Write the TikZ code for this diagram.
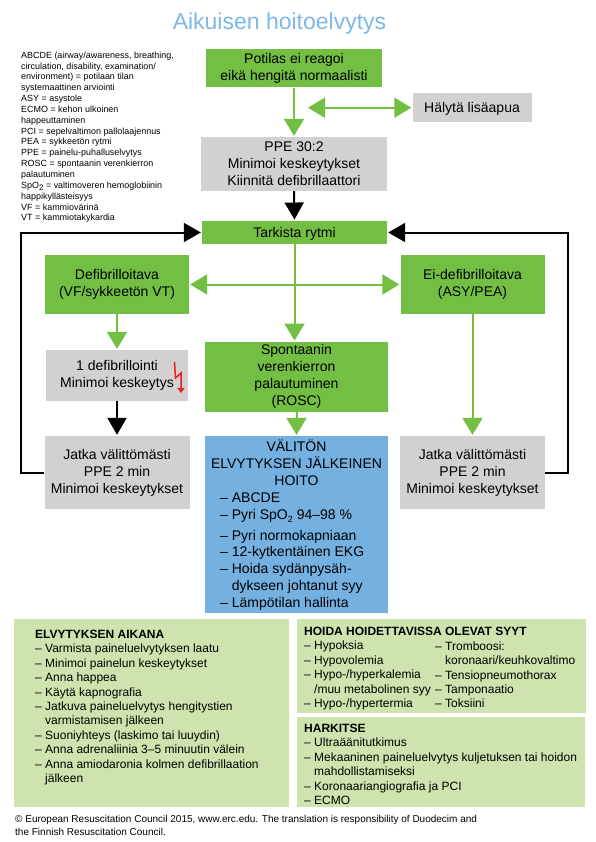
\documentclass[tikz,border=0pt]{standalone}
\usepackage{fontspec}
\setmainfont{Liberation Sans}
\usetikzlibrary{arrows.meta}
\definecolor{ercgreen}{HTML}{72BF44}
\definecolor{ercgray}{HTML}{D2D1D0}
\definecolor{ercblue}{HTML}{74B0E0}
\definecolor{ercpale}{HTML}{CEE3AE}
\definecolor{erctitle}{HTML}{7DB8E8}
\definecolor{ercred}{HTML}{ED1C24}
\newcommand{\subtwo}[2]{\raisebox{-#1pt}{\fontsize{#2}{8}\selectfont 2}}
\newcommand{\dsh}{–\ }
\newcommand{\ind}{\phantom{–\ }}
\tikzset{
  boxbase/.style={inner sep=0pt,align=center,text=black,font=\fontsize{14}{17}\selectfont,execute at begin node={\rule{0pt}{13pt}}},
  greenbox/.style={boxbase,fill=ercgreen},
  graybox/.style={boxbase,fill=ercgray},
  bluebox/.style={inner sep=0pt,fill=ercblue},
  palebox/.style={inner sep=0pt,fill=ercpale},
  listtext/.style={inner sep=0pt,anchor=north west,align=left,font=\fontsize{12}{14.4}\selectfont},
  bluetext/.style={inner sep=0pt,align=left,font=\fontsize{14}{16.9}\selectfont},
  smalltext/.style={inner sep=0pt,anchor=north west,align=left,font=\fontsize{8.95}{10.85}\selectfont},
  greenarrow/.style={draw=ercgreen,line width=2pt,-{Triangle[width=20pt,length=17pt,fill=ercgreen]},shorten >=1pt},
  blackarrow/.style={draw=black,line width=2pt,-{Triangle[width=19pt,length=17pt,fill=black]},shorten >=1pt},
}
\begin{document}
\begin{tikzpicture}[x=1pt,y=-1pt]
\useasboundingbox (0,0) rectangle (595,842);
\node[inner sep=0pt,text=erctitle,font=\fontsize{23}{28}\selectfont] (title) at (279.5,24) {Aikuisen hoitoelvytys};
\node[smalltext] (legend) at (21,51.5) {ABCDE (airway/awareness, breathing,\\circulation, disability, examination/\\environment) = potilaan tilan\\systemaattinen arviointi\\ASY = asystole\\ECMO = kehon ulkoinen\\happeuttaminen\\PCI = sepelvaltimon pallolaajennus\\PEA = sykkeetön rytmi\\PPE = painelu-puhalluselvytys\\ROSC = spontaanin verenkierron\\palautuminen\\SpO\subtwo{2}{8} = valtimoveren hemoglobiinin\\happikyllästeisyys\\VF = kammiovärinä\\VT = kammiotakykardia};

\node[greenbox,minimum width=176pt,minimum height=38.5pt] (potilas) at (294,68.2) {Potilas ei reagoi\\eikä hengitä normaalisti};
\node[graybox,minimum width=119pt,minimum height=29.5pt] (halyta) at (472,107.7) {Hälytä lisäapua};
\node[graybox,minimum width=186pt,minimum height=54pt] (ppe) at (294,164) {PPE 30:2\\Minimoi keskeytykset\\Kiinnitä defibrillaattori};
\node[greenbox,minimum width=185pt,minimum height=23.5pt] (rytmi) at (294.5,232.5) {Tarkista rytmi};
\node[greenbox,minimum width=144pt,minimum height=59pt] (defib) at (117,284.5) {Defibrilloitava\\(VF/sykkeetön VT)};
\node[greenbox,minimum width=144pt,minimum height=59pt] (eidefib) at (472.5,284.5) {Ei-defibrilloitava\\(ASY/PEA)};
\node[graybox,minimum width=142pt,minimum height=51pt] (isku) at (117,375.5) {1 defibrillointi\\Minimoi keskeytys};
\node[graybox,minimum width=145pt,minimum height=73pt] (jatkaL) at (117,472.5) {Jatka välittömästi\\PPE 2 min\\Minimoi keskeytykset};
\node[graybox,minimum width=145pt,minimum height=73pt] (jatkaR) at (472.5,472.5) {Jatka välittömästi\\PPE 2 min\\Minimoi keskeytykset};
\node[greenbox,minimum width=183pt,minimum height=70pt] (rosc) at (296.5,376.7) {Spontaanin\\verenkierron\\palautuminen\\(ROSC)};
\node[bluebox,minimum width=183pt,minimum height=176.5pt] (hoito) at (296.5,524.3) {};
\node[inner sep=0pt,align=center,font=\fontsize{14}{17}\selectfont] (hoitoH) at (296.5,463) {VÄLITÖN\\ELVYTYKSEN JÄLKEINEN\\HOITO};
\node[bluetext,anchor=north west] (hoitoL) at (220,492.3) {\dsh ABCDE\\\dsh Pyri SpO\subtwo{3}{9} 94–98 \%\\[4pt]\dsh Pyri normokapniaan\\\dsh 12-kytkentäinen EKG\\\dsh Hoida sydänpysäh-\\\ind dykseen johtanut syy\\\dsh Lämpötilan hallinta};

\node[palebox,minimum width=275pt,minimum height=188pt] (aikana) at (151.5,713) {};
\node[palebox,minimum width=289pt,minimum height=94pt] (syyt) at (441.5,666) {};
\node[palebox,minimum width=288pt,minimum height=90pt] (harkitse) at (441,762) {};
\node[listtext] (aikanaT) at (35,630) {\textbf{ELVYTYKSEN AIKANA}\\\dsh Varmista paineluelvytyksen laatu\\\dsh Minimoi painelun keskeytykset\\\dsh Anna happea\\\dsh Käytä kapnografia\\\dsh Jatkuva paineluelvytys hengitystien\\\ind varmistamisen jälkeen\\\dsh Suoniyhteys (laskimo tai luuydin)\\\dsh Anna adrenaliinia 3–5 minuutin välein\\\dsh Anna amiodaronia kolmen defibrillaation\\\ind jälkeen};
\node[listtext] (syytH) at (304,627) {\textbf{HOIDA HOIDETTAVISSA OLEVAT SYYT}\\\dsh Hypoksia\\\dsh Hypovolemia\\\dsh Hypo-/hyperkalemia\\\ind /muu metabolinen syy\\\dsh Hypo-/hypertermia};
\node[listtext] (syytB) at (435,641.4) {\dsh Tromboosi:\\\ind koronaari/keuhkovaltimo\\\dsh Tensiopneumothorax\\\dsh Tamponaatio\\\dsh Toksiini};
\node[listtext] (harkitseT) at (304,724) {\textbf{HARKITSE}\\\dsh Ultraäänitutkimus\\\dsh Mekaaninen paineluelvytys kuljetuksen tai hoidon\\\ind mahdollistamiseksi\\\dsh Koronaariangiografia ja PCI\\\dsh ECMO};
\node[inner sep=0pt,anchor=north west,align=left,font=\fontsize{10}{12.6}\selectfont] (footer) at (15,815) {© European Resuscitation Council 2015, www.erc.edu. The translation is responsibility of Duodecim and\\the Finnish Resuscitation Council.};

\coordinate (branchL) at (308,107.7);
\coordinate (branch) at (295,284.5);
\coordinate (loopLa) at (21,472.5);
\coordinate (loopLb) at (21,232.5);
\coordinate (loopRa) at (568,472.5);
\coordinate (loopRb) at (568,232.5);

\draw[greenarrow] (potilas.south) -- (ppe.north);
\draw[greenarrow,{Triangle[width=20pt,length=17pt,fill=ercgreen]}-{Triangle[width=20pt,length=17pt,fill=ercgreen]}] (branchL) -- (halyta.west);
\draw[blackarrow] (ppe.south) -- (rytmi.north);
\draw[blackarrow] (jatkaL.west) -- (loopLa) -- (loopLb) -- (rytmi.west);
\draw[blackarrow] (jatkaR.east) -- (loopRa) -- (loopRb) -- (rytmi.east);
\draw[greenarrow] (rytmi.south) -- (rytmi.south |- rosc.north);
\draw[greenarrow] (branch) -- (defib.east);
\draw[greenarrow] (branch) -- (eidefib.west);
\draw[greenarrow] (defib.south) -- (isku.north);
\draw[blackarrow] (isku.south) -- (jatkaL.north);
\draw[greenarrow] (eidefib.south) -- (jatkaR.north);
\draw[greenarrow] (rosc.south) -- (hoito.north);
\draw[ercred,line width=1.5pt,-{Triangle[width=7pt,length=5pt,fill=ercred]}] (174.5,362) -- (175.5,378) -- (181,373) -- (181,393);
\end{tikzpicture}
\end{document}
